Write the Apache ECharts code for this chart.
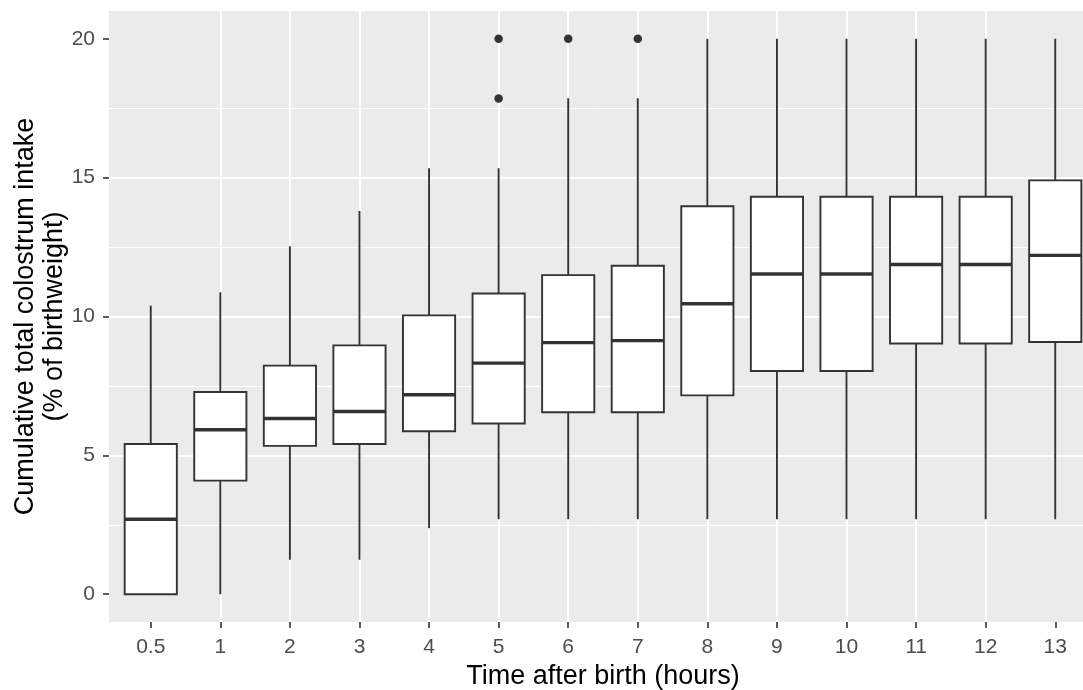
<!DOCTYPE html>
<html>
<head>
<meta charset="utf-8">
<script src="https://cdn.jsdelivr.net/npm/echarts@6/dist/echarts.min.js"></script>
<style>
  html, body { margin: 0; padding: 0; background: #ffffff; }
  #chart { width: 1083px; height: 690px; }
</style>
</head>
<body>
<div id="chart"></div>
<script>
// Time points after birth (hours)
const categories = ['0.5', '1', '2', '3', '4', '5', '6', '7', '8', '9', '10', '11', '12', '13'];

// Box statistics: cumulative colostrum intake, % of birthweight
const whiskerLow  = [0,     0,     1.24,  1.24,  2.38,  2.70,  2.70,  2.70,  2.70,  2.70,  2.70,  2.70,  2.70,  2.70];
const lowerQuart  = [0,     4.09,  5.34,  5.41,  5.87,  6.15,  6.55,  6.55,  7.16,  8.04,  8.04,  9.03,  9.03,  9.08];
const medians     = [2.70,  5.92,  6.33,  6.58,  7.18,  8.32,  9.06,  9.13,  10.46, 11.53, 11.53, 11.87, 11.87, 12.20];
const upperQuart  = [5.41,  7.28,  8.23,  8.96,  10.04, 10.83, 11.49, 11.83, 13.97, 14.31, 14.31, 14.31, 14.31, 14.90];
const whiskerHigh = [10.39, 10.87, 12.53, 13.80, 15.34, 15.34, 17.86, 17.86, 20,    20,    20,    20,    20,    20];

// Outlying observations
const outlierTimes  = ['5', '5', '6', '7'];
const outlierValues = [20, 17.85, 20, 20];

// Value-axis tick labels
const yTicks = [0, 5, 10, 15, 20];

const INK = '#333333';
const FONT = '"Liberation Sans", Arial, sans-serif';

const boxData = categories.map((c, i) =>
  [i, whiskerLow[i], lowerQuart[i], medians[i], upperQuart[i], whiskerHigh[i]]);
const outlierData = outlierTimes.map((t, k) => [categories.indexOf(t), outlierValues[k]]);
const xPositions = categories.map((c, i) => i);

// One box: whiskers, white box from Q1 to Q3, heavier median bar
function renderBox(params, api) {
  const x = api.value(0);
  const pLo = api.coord([x, api.value(1)]);
  const pQ1 = api.coord([x, api.value(2)]);
  const pMed = api.coord([x, api.value(3)]);
  const pQ3 = api.coord([x, api.value(4)]);
  const pHi = api.coord([x, api.value(5)]);
  const half = api.size([0.75, 0])[0] / 2;
  const lw = 1.9;
  return {
    type: 'group',
    children: [
      { type: 'line', shape: { x1: pHi[0], y1: pHi[1], x2: pQ3[0], y2: pQ3[1] }, style: { stroke: INK, lineWidth: lw } },
      { type: 'line', shape: { x1: pQ1[0], y1: pQ1[1], x2: pLo[0], y2: pLo[1] }, style: { stroke: INK, lineWidth: lw } },
      { type: 'rect', shape: { x: pQ3[0] - half, y: pQ3[1], width: half * 2, height: pQ1[1] - pQ3[1] },
        style: { fill: '#ffffff', stroke: INK, lineWidth: lw } },
      { type: 'line', shape: { x1: pMed[0] - half, y1: pMed[1], x2: pMed[0] + half, y2: pMed[1] },
        style: { stroke: INK, lineWidth: 3.4 } }
    ]
  };
}

const chart = echarts.init(document.getElementById('chart'), null, { renderer: 'canvas' });
chart.setOption({
  animation: false,
  backgroundColor: '#ffffff',
  textStyle: { fontFamily: FONT },
  grid: {
    left: 109, top: 11, width: 988, height: 611,
    outerBoundsMode: 'none',
    containLabel: false,
    show: true, backgroundColor: '#EBEBEB', borderWidth: 0
  },
  xAxis: {
    type: 'value',
    min: -0.6, max: 13.6,
    splitNumber: 14,
    name: 'Time after birth (hours)',
    nameLocation: 'middle',
    nameGap: 41,
    nameMoveOverlap: false,
    nameTextStyle: { color: '#000000', fontSize: 27, fontFamily: FONT },
    axisLine: { show: false, onZero: false },
    axisTick: { show: true, length: 6, customValues: xPositions, lineStyle: { color: INK, width: 1.6 } },
    axisLabel: {
      customValues: xPositions,
      margin: 15, color: '#4D4D4D', fontSize: 21, fontFamily: FONT,
      formatter: v => (Number.isInteger(v) && categories[v] !== undefined) ? categories[v] : ''
    },
    splitLine: { show: true, showMinLine: false, showMaxLine: false, lineStyle: { color: '#ffffff', width: 2 } }
  },
  yAxis: {
    type: 'value',
    min: -1, max: 21,
    splitNumber: 4,
    name: 'Cumulative total colostrum intake\n(% of birthweight)',
    nameLocation: 'middle',
    nameGap: 40,
    nameMoveOverlap: false,
    nameRotate: 90,
    nameTextStyle: { color: '#000000', fontSize: 27, lineHeight: 29, fontFamily: FONT, align: 'center' },
    axisLine: { show: false, onZero: false },
    axisTick: { show: true, length: 6, customValues: yTicks, lineStyle: { color: INK, width: 1.6 } },
    axisLabel: { customValues: yTicks, margin: 14, color: '#4D4D4D', fontSize: 21, fontFamily: FONT },
    splitLine: { show: true, showMinLine: false, showMaxLine: false, lineStyle: { color: '#ffffff', width: 2 } },
    minorTick: { show: false, splitNumber: 2 },
    minorSplitLine: { show: true, lineStyle: { color: '#ffffff', width: 1 } }
  },
  series: [
    {
      type: 'custom',
      renderItem: renderBox,
      data: boxData,
      encode: { x: 0, y: [1, 2, 3, 4, 5] },
      clip: true,
      z: 3
    },
    {
      type: 'scatter',
      data: outlierData,
      symbol: 'circle',
      symbolSize: 8.5,
      itemStyle: { color: INK, opacity: 1 },
      z: 4
    }
  ]
});
</script>
</body>
</html>
